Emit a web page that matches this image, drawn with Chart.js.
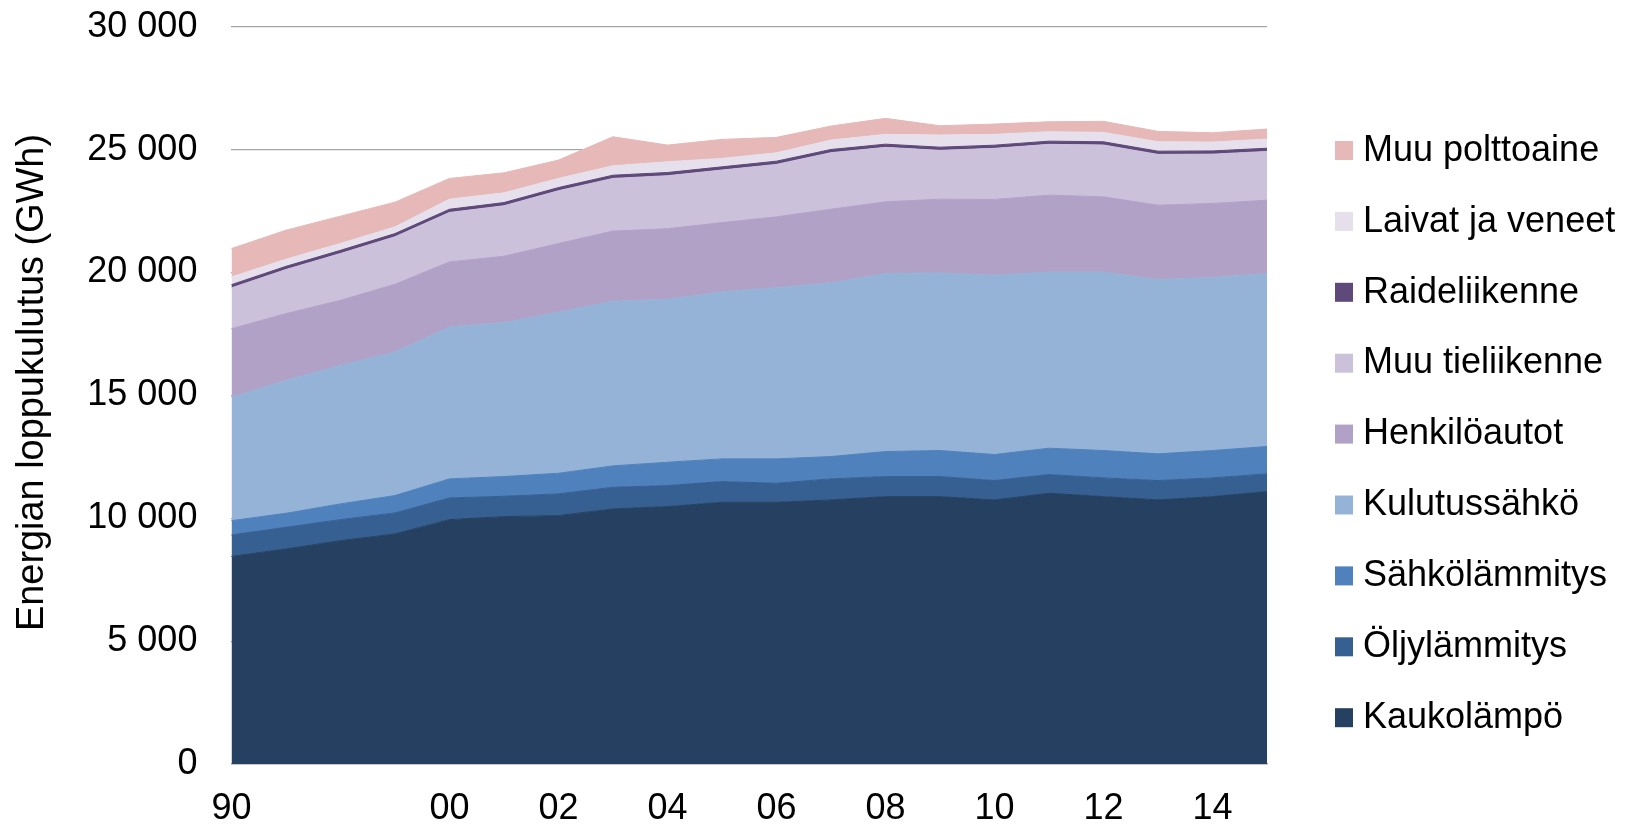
<!DOCTYPE html>
<html>
<head>
<meta charset="utf-8">
<script src="https://cdn.jsdelivr.net/npm/chart.js@4/dist/chart.umd.min.js"></script>
<style>
  html, body { margin: 0; padding: 0; background: #ffffff; }
  #wrap { width: 1642px; height: 826px; position: relative; }
</style>
</head>
<body>
<div id="wrap"><canvas id="c"></canvas></div>
<script>
// ---- data (GWh) ----
const categories = ['90','','','','00','01','02','03','04','05','06','07','08','09','10','11','12','13','14','15'];
const kaukolampo     = [8448,8748,9087,9359,9943,10065,10106,10378,10473,10649,10649,10744,10880,10880,10744,11016,10880,10744,10880,11084];
const oljylammitys   = [871,882,856,856,884,828,884,882,855,842,774,857,815,815,788,761,761,788,761,720];
const sahkolammitys  = [583,570,640,706,774,802,840,870,950,924,992,909,1019,1060,1060,1072,1114,1087,1114,1114];
const kulutussahko   = [5025,5407,5635,5840,6178,6263,6561,6700,6630,6791,6968,7063,7241,7225,7294,7171,7265,7091,7037,7037];
const henkiloautot   = [2786,2718,2649,2758,2649,2702,2786,2855,2872,2824,2879,3002,2918,3003,3085,3126,3057,3028,3016,2987];
const muuTieliikenne = [1660,1793,1903,1932,2013,2054,2148,2142,2157,2138,2136,2299,2217,1985,2079,2067,2110,2067,2007,1983];
const raideliikenne  = [130,130,130,130,130,130,130,130,130,130,130,130,130,130,130,130,130,130,130,130];
const laivatJaVeneet = [314,292,280,274,412,396,371,383,437,343,342,383,399,493,439,382,383,383,361,373];
const muuPolttoaine  = [1156,1180,1110,1005,843,815,746,1182,679,774,627,571,652,379,420,408,449,423,379,407];

const seriesNames = ['Kaukolämpö','Öljylämmitys','Sähkölämmitys','Kulutussähkö','Henkilöautot','Muu tieliikenne','Raideliikenne','Laivat ja veneet','Muu polttoaine'];
const seriesData  = [kaukolampo, oljylammitys, sahkolammitys, kulutussahko, henkiloautot, muuTieliikenne, raideliikenne, laivatJaVeneet, muuPolttoaine];
const seriesColors = ['#264061','#365f92','#4f81bd','#95b3d7','#b2a1c7','#ccc1da','#5f497a','#e5e0ec','#e6b9b8'];
const yAxisTitle = 'Energian loppukulutus (GWh)';

const FONT = '"Liberation Sans", Arial, sans-serif';

const datasets = seriesData.map((d, i) => ({
  label: seriesNames[i],
  data: d,
  backgroundColor: seriesColors[i],
  borderColor: seriesColors[i],
  borderWidth: 1,
  pointRadius: 0,
  pointHoverRadius: 0,
  tension: 0,
  fill: i === 0 ? 'origin' : '-1'
}));

function fmt(v) { return String(v).replace(/\B(?=(\d{3})+(?!\d))/g, ' '); }

const decorPlugin = {
  id: 'decor',
  afterDraw(chart) {
    const ctx = chart.ctx;
    // y-axis title (slightly stretched like the original)
    ctx.save();
    ctx.font = '38px ' + FONT;
    ctx.fillStyle = '#000000';
    const w = ctx.measureText(yAxisTitle).width;
    const sx = 497 / w;
    ctx.translate(42.5, 382.5);
    ctx.rotate(-Math.PI / 2);
    ctx.scale(sx, 1);
    ctx.textAlign = 'center';
    ctx.textBaseline = 'alphabetic';
    ctx.fillText(yAxisTitle, 0, 0);
    ctx.restore();

    // legend (top to bottom = reverse stacking order)
    ctx.save();
    ctx.font = '36px ' + FONT;
    ctx.textAlign = 'left';
    ctx.textBaseline = 'alphabetic';
    const ds = chart.data.datasets;
    for (let k = 0; k < ds.length; k++) {
      const d = ds[ds.length - 1 - k];
      const cy = 150.5 + k * 70.9;
      ctx.fillStyle = d.backgroundColor;
      ctx.fillRect(1335, cy - 9.5, 18, 19);
      ctx.fillStyle = '#000000';
      ctx.fillText(d.label, 1363, cy + 10.2);
    }
    ctx.restore();
  }
};

new Chart(document.getElementById('c'), {
  type: 'line',
  data: { labels: categories, datasets },
  options: {
    responsive: true,
    maintainAspectRatio: false,
    animation: false,
    layout: { padding: { left: 0, top: 26.7, right: 375, bottom: -28 } },
    plugins: {
      legend: { display: false },
      tooltip: { enabled: false },
      title: { display: false }
    },
    scales: {
      x: {
        type: 'category',
        offset: false,
        grid: { display: false, drawTicks: false },
        border: { display: true, color: '#a6a6a6', width: 1.5 },
        ticks: {
          autoSkip: false,
          maxRotation: 0,
          minRotation: 0,
          padding: 27,
          color: '#000000',
          font: { family: FONT, size: 36, lineHeight: 1 },
          callback: function(v, i) { return i % 2 === 0 ? categories[i] : ''; }
        }
      },
      y: {
        stacked: true,
        min: 0,
        max: 30000,
        afterFit(scale) {
          scale.width = 231.4;
          scale.paddingTop = 20;
          scale.paddingBottom = 20;
        },
        grid: { display: true, color: '#a6a6a6', lineWidth: 1.2, drawTicks: false },
        border: { display: false },
        ticks: {
          stepSize: 5000,
          padding: 34,
          color: '#000000',
          font: { family: FONT, size: 36 },
          callback: function(v) { return fmt(v); }
        }
      }
    }
  },
  plugins: [decorPlugin]
});
</script>
</body>
</html>
